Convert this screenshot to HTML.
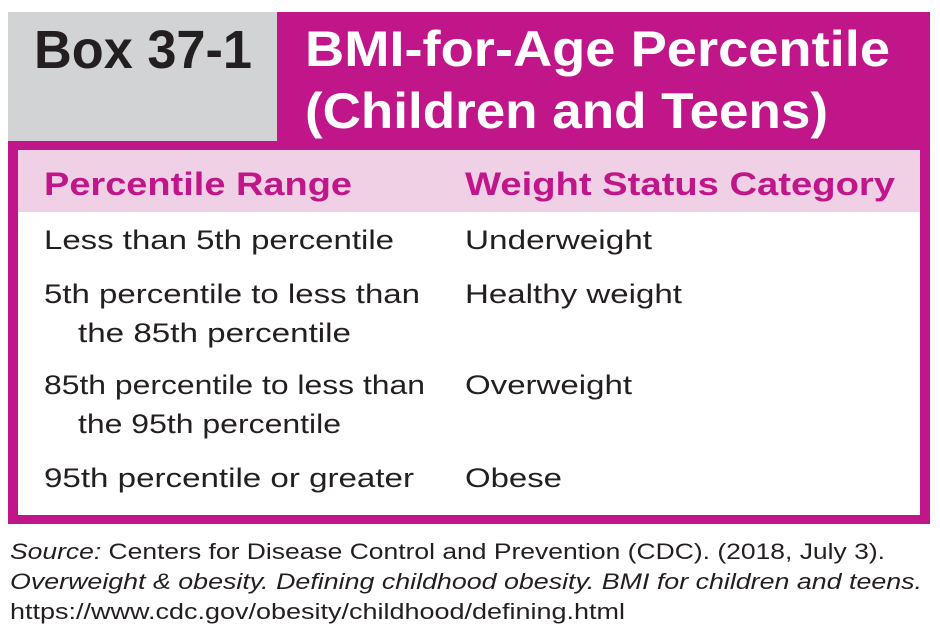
<!DOCTYPE html>
<html><head><meta charset="utf-8"><style>
html,body{margin:0;padding:0;background:#fff;}
svg{display:block;}
text{font-family:"Liberation Sans",Arial,sans-serif;}
</style></head><body>
<svg width="940" height="642" viewBox="0 0 940 642" xmlns="http://www.w3.org/2000/svg">
<rect x="0" y="0" width="940" height="642" fill="#fff"/>
<rect x="8" y="12" width="270" height="130" fill="#d1d3d4"/>
<rect x="277" y="12" width="653" height="140" fill="#c0168a"/>
<rect x="8" y="141" width="922" height="383" fill="#c0168a"/>
<rect x="18" y="150" width="902" height="365" fill="#fff"/>
<rect x="18" y="150" width="902" height="62" fill="#f0d0e5"/>

<text x="34" y="68" font-size="54" font-weight="bold" fill="#231f20" textLength="218" lengthAdjust="spacingAndGlyphs">Box 37-1</text>
<text x="305" y="66" font-size="50" font-weight="bold" fill="#fff" textLength="585" lengthAdjust="spacingAndGlyphs">BMI-for-Age Percentile</text>
<text x="305" y="128" font-size="50" font-weight="bold" fill="#fff" textLength="523" lengthAdjust="spacingAndGlyphs">(Children and Teens)</text>

<text x="44" y="195" font-size="32" font-weight="bold" fill="#c0168a" textLength="308" lengthAdjust="spacingAndGlyphs">Percentile Range</text>
<text x="465" y="195" font-size="32" font-weight="bold" fill="#c0168a" textLength="430" lengthAdjust="spacingAndGlyphs">Weight Status Category</text>

<g font-size="27" fill="#231f20">
<text x="44" y="249" textLength="350" lengthAdjust="spacingAndGlyphs">Less than 5th percentile</text>
<text x="44" y="303" textLength="376" lengthAdjust="spacingAndGlyphs">5th percentile to less than</text>
<text x="78" y="342" textLength="273" lengthAdjust="spacingAndGlyphs">the 85th percentile</text>
<text x="44" y="394" textLength="381" lengthAdjust="spacingAndGlyphs">85th percentile to less than</text>
<text x="78" y="433" textLength="263" lengthAdjust="spacingAndGlyphs">the 95th percentile</text>
<text x="44" y="487" textLength="370" lengthAdjust="spacingAndGlyphs">95th percentile or greater</text>
<text x="465" y="249" textLength="187" lengthAdjust="spacingAndGlyphs">Underweight</text>
<text x="465" y="303" textLength="217" lengthAdjust="spacingAndGlyphs">Healthy weight</text>
<text x="465" y="394" textLength="167" lengthAdjust="spacingAndGlyphs">Overweight</text>
<text x="465" y="487" textLength="97" lengthAdjust="spacingAndGlyphs">Obese</text>
</g>

<g font-size="22" fill="#231f20">
<text x="10" y="559" textLength="875" lengthAdjust="spacingAndGlyphs"><tspan font-style="italic">Source:</tspan> Centers for Disease Control and Prevention (CDC). (2018, July 3).</text>
<text x="10" y="589" font-style="italic" textLength="912" lengthAdjust="spacingAndGlyphs">Overweight &amp; obesity. Defining childhood obesity. BMI for children and teens.</text>
<text x="10" y="619" textLength="615" lengthAdjust="spacingAndGlyphs">https://www.cdc.gov/obesity/childhood/defining.html</text>
</g>
</svg>
</body></html>
